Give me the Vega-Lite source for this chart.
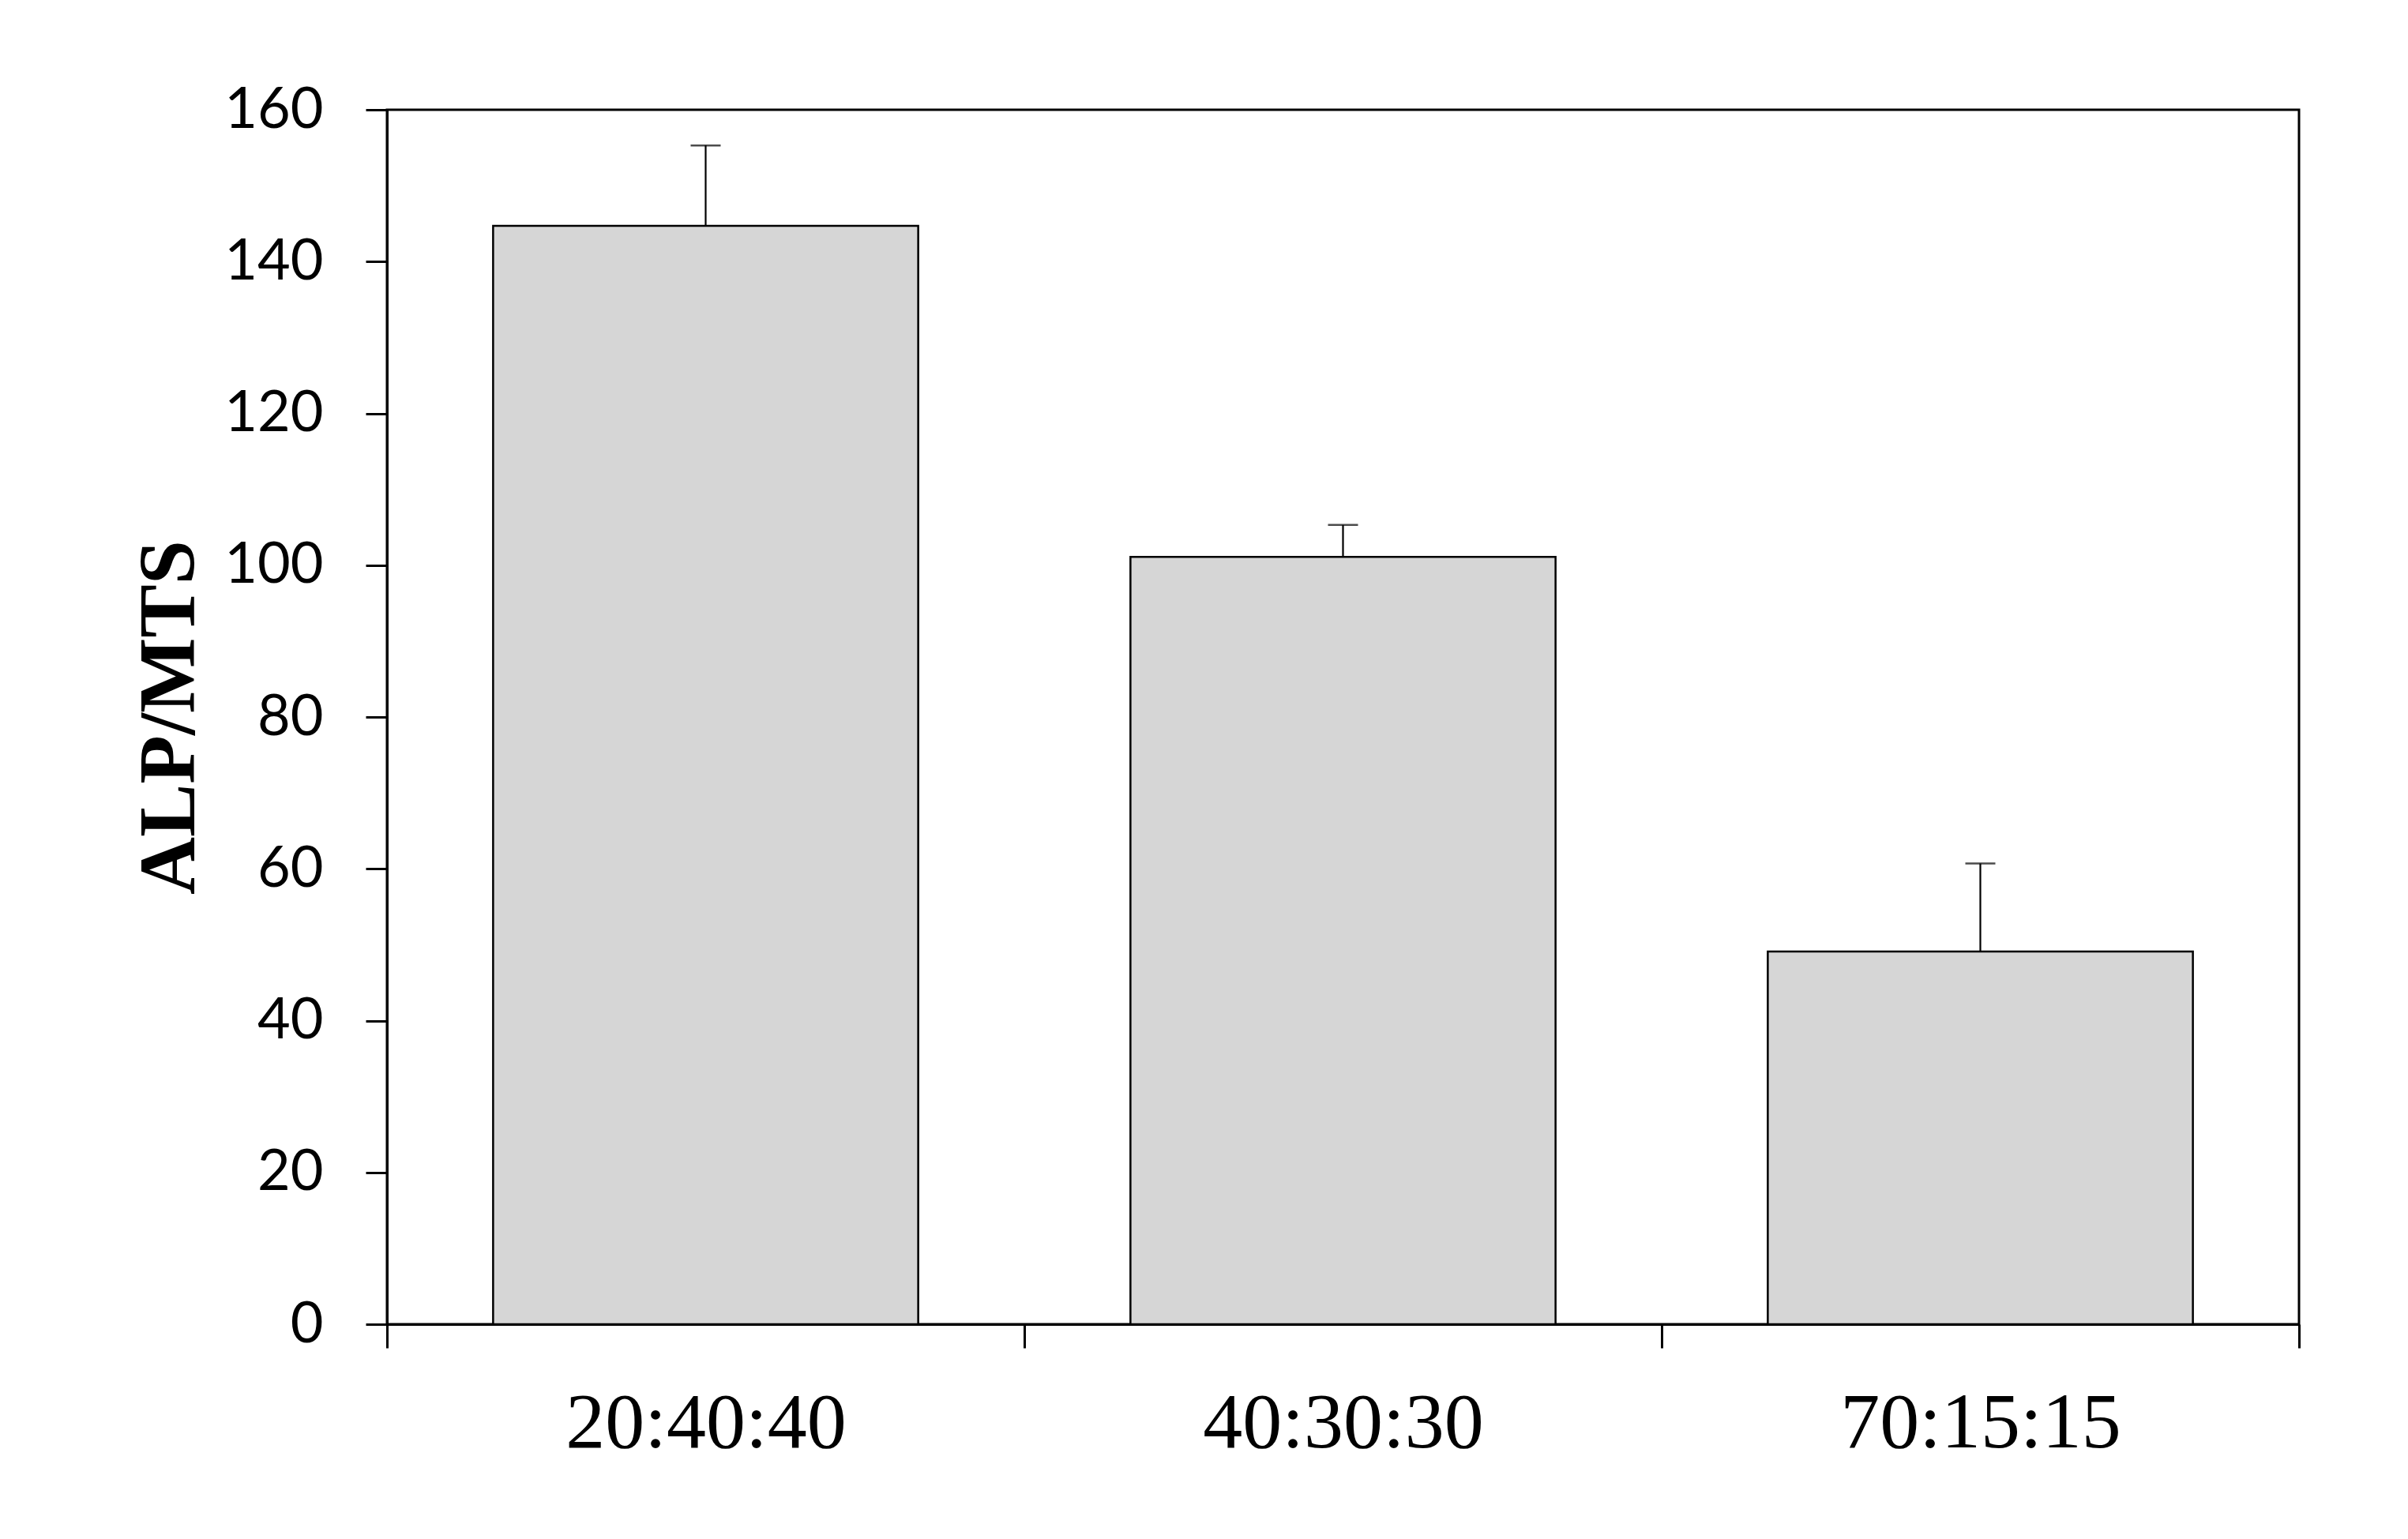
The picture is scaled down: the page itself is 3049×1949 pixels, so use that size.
{
  "$schema": "https://vega.github.io/schema/vega-lite/v6.json",
  "autosize": {"type": "none"},
  "padding": {"left": 490, "top": 139, "right": 138, "bottom": 272},
  "width": 2421,
  "height": 1538,
  "background": "white",
  "config": {
    "view": {"stroke": "black", "strokeWidth": 3},
    "axis": {"domainColor": "black", "tickColor": "black", "labelColor": "black", "titleColor": "black", "grid": false, "labelLimit": 0}
  },
  "data": {
    "values": [
      {"ratio": "20:40:40", "mean": 144.7, "upper": 155.3},
      {"ratio": "40:30:30", "mean": 101.1, "upper": 105.3},
      {"ratio": "70:15:15", "mean": 49.1, "upper": 60.7}
    ]
  },
  "encoding": {
    "x": {
      "field": "ratio",
      "type": "nominal",
      "sort": null,
      "scale": {"paddingInner": 0, "paddingOuter": 0},
      "axis": {
        "title": null,
        "labelAngle": 0,
        "labelFont": "Liberation Serif",
        "labelFontSize": 100,
        "labelPadding": 46,
        "labelLimit": 0,
        "tickSize": 30,
        "tickWidth": 3,
        "domainWidth": 3,
        "tickBand": "extent"
      }
    }
  },
  "layer": [
    {
      "mark": {"type": "bar", "fill": "#d6d6d6", "stroke": "black", "strokeWidth": 2.5, "width": {"band": 0.667}},
      "encoding": {
        "y": {
          "field": "mean",
          "type": "quantitative",
          "scale": {"domain": [0, 160], "nice": false},
          "axis": {
            "title": "ALP/MTS",
            "titleFont": "Liberation Serif",
            "titleFontWeight": "bold",
            "titleFontSize": 101,
            "titlePadding": 24,
            "labelFont": "Lato",
            "labelFontSize": 72,
            "labelPadding": 54,
            "tickSize": 27,
            "tickWidth": 3,
            "domainWidth": 3,
            "values": [0, 20, 40, 60, 80, 100, 120, 140, 160]
          }
        }
      }
    },
    {
      "mark": {"type": "rule", "color": "black", "strokeWidth": 2.2},
      "encoding": {
        "y": {"field": "mean", "type": "quantitative"},
        "y2": {"field": "upper"}
      }
    },
    {
      "mark": {"type": "tick", "color": "black", "size": 38, "thickness": 2.5},
      "encoding": {
        "y": {"field": "upper", "type": "quantitative"}
      }
    }
  ]
}
